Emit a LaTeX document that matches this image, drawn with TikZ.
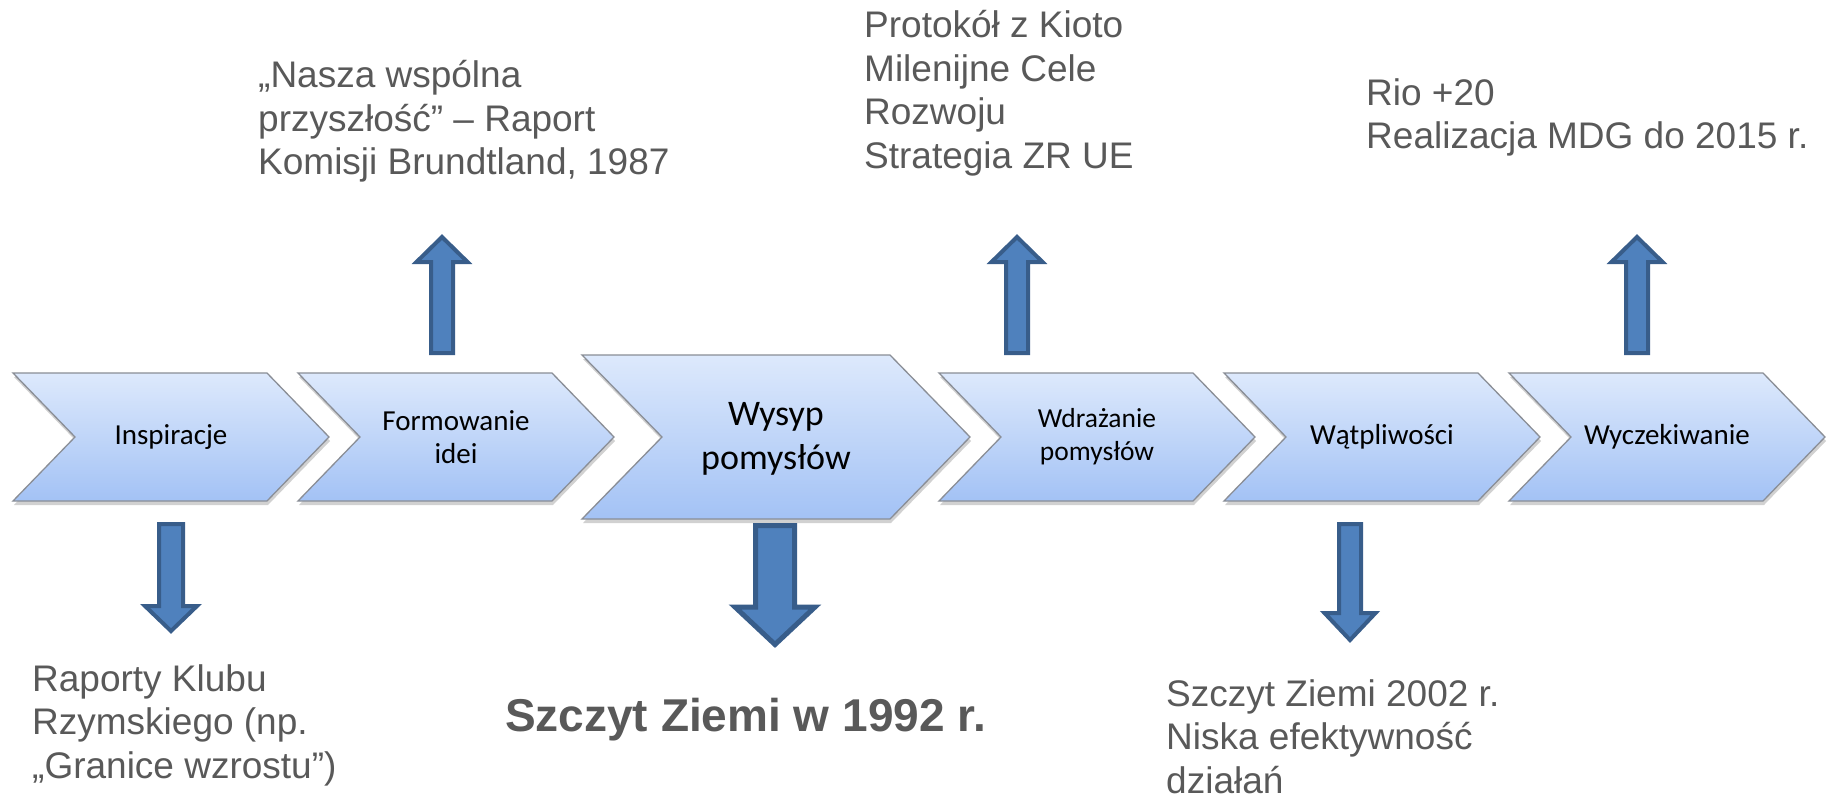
\documentclass[tikz,border=0pt]{standalone}
\usepackage{fontspec}
\newfontfamily\arialf{Liberation Sans}
\newfontfamily\calib{Carlito}
\definecolor{chevtop}{HTML}{DDE9FC}
\definecolor{chevbot}{HTML}{A3C2F5}
\definecolor{chevline}{HTML}{8A8E96}
\definecolor{arrfill}{HTML}{4F81BD}
\definecolor{arrline}{HTML}{385D8A}
\definecolor{txtgray}{HTML}{595959}
\newcommand{\lines}[1]{\begin{tabular}[t]{@{}l@{}}#1\end{tabular}}
\newcommand{\chev}[7]{%
  \fill[chevshadow] ({#2-#3+1},{441-#4}) -- ({#2+#3-#5+1},{441-#4}) -- ({#2+#3+1},441) -- ({#2+#3-#5+1},{441+#4}) -- ({#2-#3+1},{441+#4}) -- ({#2-#3+#5+1},441) -- cycle;
  \path[chevfill] ({#2-#3},{437-#4}) -- ({#2+#3-#5},{437-#4}) -- ({#2+#3},437) -- ({#2+#3-#5},{437+#4}) -- ({#2-#3},{437+#4}) -- ({#2-#3+#5},437) -- cycle;
  \node[ctext,#6] (#1) at (#2,437) {#7};}
\newcommand{\blockarr}[7][]{%
  \path[blockarrow,#1] (#2,#3) -- ({#2+#6},#4) -- ({#2+#7},#4) -- ({#2+#7},#5) -- ({#2-#7},#5) -- ({#2-#7},#4) -- ({#2-#6},#4) -- cycle;}
\begin{document}
\begin{tikzpicture}[x=1pt,y=-1pt,
  chevfill/.style={top color=chevtop, bottom color=chevbot, draw=chevline, line width=1.3pt, line join=miter},
  chevshadow/.style={fill=black, opacity=0.18},
  ctext/.style={font=\calib\fontsize{29}{33}\selectfont, align=center, inner sep=0pt, text=black},
  bigtext/.style={font=\calib\fontsize{36}{44}\selectfont, yshift=-2pt},
  smalltext/.style={font=\calib\fontsize{27.5}{33}\selectfont},
  blockarrow/.style={fill=arrfill, draw=arrline, line width=4pt, line join=miter},
  graytext/.style={font=\arialf\fontsize{37}{43.5}\selectfont, text=txtgray, inner sep=0pt, anchor=base west},
  boldtext/.style={font=\arialf\bfseries\fontsize{46}{50}\selectfont, text=txtgray, inner sep=0pt, anchor=base east}]
\useasboundingbox (0,0) rectangle (1831,800);
\fill[white] (0,0) rectangle (1831,800);
% chevrons
\chev{c1}{171}{158}{64}{62}{}{Inspiracje}
\chev{c2}{456}{158}{64}{62}{}{Formowanie\\idei}
\chev{c3}{776}{194}{82}{80}{bigtext}{Wysyp\\pomysłów}
\chev{c4}{1097}{158}{64}{62}{smalltext}{Wdrażanie\\pomysłów}
\chev{c5}{1382}{158}{64}{62}{}{Wątpliwości}
\chev{c6}{1667}{158}{64}{62}{}{Wyczekiwanie}
% block arrows
\blockarr{442}{237}{262}{353}{25.5}{11}
\blockarr{1017}{237}{262}{353}{25.5}{11}
\blockarr{1637}{237}{262}{353}{25.5}{11}
\blockarr{171}{631}{606}{524}{26}{12}
\blockarr{1350}{640}{613}{524}{25.5}{11}
\blockarr[line width=5pt]{775}{644.5}{607}{525.5}{40}{19.5}
% texts
\node[graytext] (t1) at (258,88) {\lines{„Nasza wspólna\\przyszłość” – Raport\\Komisji Brundtland, 1987}};
\node[graytext] (t2) at (864,38) {\lines{Protokół z Kioto\\Milenijne Cele\\Rozwoju\\Strategia ZR UE}};
\node[graytext] (t3) at (1366,105) {\lines{Rio +20\\Realizacja MDG do 2015 r.}};
\node[graytext] (t4) at (32,691) {\lines{Raporty Klubu\\Rzymskiego (np.\\„Granice wzrostu”)}};
\node[graytext] (t5) at (1166,706) {\lines{Szczyt Ziemi 2002 r.\\Niska efektywność\\działań}};
\node[boldtext] (t6) at (986,731) {Szczyt Ziemi w 1992 r.};
\end{tikzpicture}
\end{document}
